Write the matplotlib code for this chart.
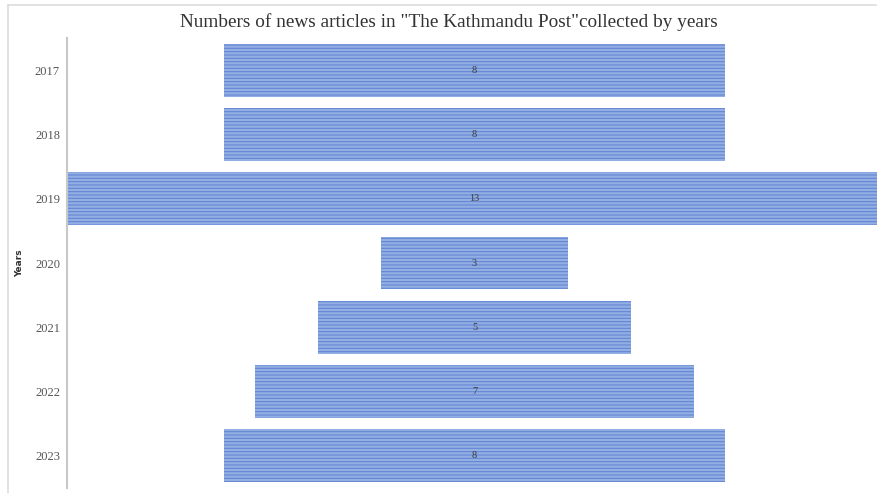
import matplotlib
import matplotlib.pyplot as plt
from matplotlib.lines import Line2D

matplotlib.use("Agg")

years = ["2017", "2018", "2019", "2020", "2021", "2022", "2023"]
articles = [8, 8, 13, 3, 5, 7, 8]

TITLE = 'Numbers of news articles in "The Kathmandu Post"collected by years'
FACE = "#92aee2"
STRIPE = "#6386d4"

plt.rcParams["hatch.color"] = STRIPE
plt.rcParams["hatch.linewidth"] = 0.8

fig = plt.figure(figsize=(8.77, 4.93), dpi=100)
W, H = 877, 493

# axes spans from the y spine to the right edge of the figure
ax = fig.add_axes([67 / W, 1 - 488 / H, 1 - 67 / W, (488 - 38) / H])

ypos = list(range(len(years)))
# centred bars, funnel style
lefts = [-v / 2 for v in articles]
bars = ax.barh(ypos, articles, left=lefts, height=0.82, color=FACE,
               hatch="-----", edgecolor=STRIPE, linewidth=0.0)

for y, v in zip(ypos, articles):
    ax.text(0, y, str(v), ha="center", va="center", fontsize=7.5,
            color="#3a3a3a", family="Liberation Serif")

ax.set_xlim(-6.51, 6.43)
ax.set_ylim(len(years) - 0.5, -0.5)
ax.set_yticks(ypos)
ax.set_yticklabels(years, family="Liberation Serif", fontsize=9, color="#555555")
ax.tick_params(axis="y", length=0, pad=5)
ax.set_xticks([])
for side in ("top", "right", "bottom"):
    ax.spines[side].set_visible(False)
ax.spines["left"].set_color("#c8c8c8")
ax.spines["left"].set_linewidth(1.5)

fig.text(20 / W, 1 - 263 / H, "Years", rotation=90, ha="center", va="center",
         fontsize=6.5, fontweight="bold", color="#333333", family="Liberation Sans Narrow")

fig.text(449 / W, 1 - 22 / H, TITLE, ha="center", va="center",
         fontsize=13.9, color="#333333", family="Liberation Serif")

# light outer frame (top and left edges)
fig.add_artist(Line2D([8 / W, 876 / W], [1 - 5 / H, 1 - 5 / H],
                      transform=fig.transFigure, color="#dddddd", lw=1.2))
fig.add_artist(Line2D([8 / W, 8 / W], [1 - 5 / H, 0],
                      transform=fig.transFigure, color="#dddddd", lw=1.2))

fig.savefig("out.png", dpi=100)
